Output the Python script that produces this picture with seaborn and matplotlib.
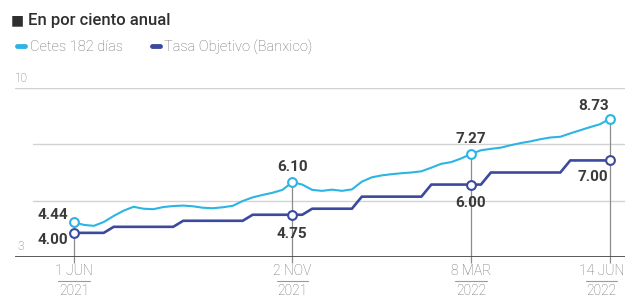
import matplotlib
matplotlib.use('Agg')
import matplotlib.pyplot as plt
import matplotlib.transforms as mtransforms
import seaborn as sns
import pandas as pd
import numpy as np

# weekly auctions, 1 Jun 2021 - 14 Jun 2022 (tuesdays)
fechas = pd.date_range('2021-06-01', '2022-06-14', freq='7D')

cetes = [4.44, 4.33, 4.29, 4.45, 4.70, 4.92, 5.08, 5.00, 4.98, 5.07, 5.11, 5.13,
         5.10, 5.04, 5.02, 5.06, 5.12, 5.32, 5.47, 5.57, 5.66, 5.78, 6.10,
         6.00, 5.78, 5.74, 5.79, 5.74, 5.80, 6.12, 6.30, 6.38, 6.43, 6.47, 6.50,
         6.55, 6.70, 6.86, 6.93, 7.08, 7.27,
         7.42, 7.48, 7.53, 7.63, 7.72, 7.79, 7.88, 7.95, 7.98, 8.12, 8.25, 8.38,
         8.50, 8.73]

banxico = [4.00, 4.00, 4.00, 4.00, 4.25, 4.25, 4.25, 4.25, 4.25, 4.25, 4.25,
           4.50, 4.50, 4.50, 4.50, 4.50, 4.50, 4.50, 4.75, 4.75, 4.75, 4.75, 4.75,
           4.75, 5.00, 5.00, 5.00, 5.00, 5.00, 5.50, 5.50, 5.50, 5.50, 5.50, 5.50,
           5.50, 6.00, 6.00, 6.00, 6.00, 6.00,
           6.00, 6.50, 6.50, 6.50, 6.50, 6.50, 6.50, 6.50, 6.50, 7.00, 7.00, 7.00,
           7.00, 7.00]

series = ['Cetes 182 días', 'Tasa Objetivo (Banxico)']
fechas_clave = pd.to_datetime(['2021-06-01', '2021-11-02', '2022-03-08', '2022-06-14'])
etiqueta_dia = ['1 JUN', '2 NOV', '8 MAR', '14 JUN']
etiqueta_anio = ['2021', '2021', '2022', '2022']

cyan = '#2cb5e4'
navy = '#3c4a9e'
gris = '#6e6e6e'

sns.set_style('white')
plt.rcParams['font.family'] = ['Roboto', 'DejaVu Sans']

df = pd.DataFrame({'fecha': fechas, series[0]: cetes, series[1]: banxico})
df = df.melt('fecha', var_name='serie', value_name='tasa')

fig = plt.figure(figsize=(6.29, 3.0), dpi=100)
ax = fig.add_axes([15/629, 43/300, 610/629, 169/300])

sns.lineplot(data=df, x='fecha', y='tasa', hue='serie', palette=[cyan, navy], ax=ax, zorder=3)
ax.lines[0].set_linewidth(1.5)
ax.lines[1].set_linewidth(1.9)

ax.set_ylim(3, 10)
ax.set_xlim(fechas[0] - pd.Timedelta(days=41.6), fechas[-1] + pd.Timedelta(days=10.6))
ax.set_xticks([])
ax.set_yticks([])
ax.set_xlabel('')
ax.set_ylabel('')
for s in ax.spines.values():
    s.set_visible(False)

# grid
grid = np.linspace(3, 10, 4)
for g in grid[1:-1]:
    ax.axhline(g, xmin=18/610, color='#d2d2d2', lw=1, zorder=0)
ax.axhline(grid[-1], color='#d2d2d2', lw=1, zorder=0)
ax.axhline(grid[0], color='#4a4a4a', lw=2, zorder=4)

blend = mtransforms.blended_transform_factory(ax.transAxes, ax.transData)
ax.annotate('10', xy=(0, 10), xycoords=blend, xytext=(0, 2), textcoords='offset points',
            ha='left', va='bottom', fontsize=8.5, color=gris, fontweight='light')
ax.annotate('3', xy=(0, 3), xycoords=blend, xytext=(2, 3), textcoords='offset points',
            ha='left', va='bottom', fontsize=8.5, color=gris, fontweight='light')

# highlighted dates
cetes_clave = [cetes[list(fechas).index(d)] for d in fechas_clave]
banx_clave = [banxico[list(fechas).index(d)] for d in fechas_clave]
ax.vlines(fechas_clave, 2.75, cetes_clave, color='#8c8c8c', lw=0.9, clip_on=False, zorder=1)
ax.scatter(fechas_clave, cetes_clave, s=40, facecolor='white', edgecolor=cyan, linewidth=1.5, zorder=6)
ax.scatter(fechas_clave, banx_clave, s=40, facecolor='white', edgecolor=navy, linewidth=1.5, zorder=6)

lab = dict(textcoords='offset points', fontsize=11, fontweight='bold', color='#3a3a3a', va='center')
off_c = [(-4, 5, 'right'), (0, 11, 'center'), (0, 11, 'center'), (-1, 9, 'right')]
off_b = [(-4, -5, 'right'), (0, -14, 'center'), (0, -13, 'center'), (-1, -12, 'right')]
for d, v, (dx, dy, ha) in zip(fechas_clave, cetes_clave, off_c):
    ax.annotate(f'{v:.2f}', xy=(d, v), xytext=(dx, dy), ha=ha, **lab)
for d, v, (dx, dy, ha) in zip(fechas_clave, banx_clave, off_b):
    ax.annotate(f'{v:.2f}', xy=(d, v), xytext=(dx, dy), ha=ha, **lab)

# date labels
bx = mtransforms.blended_transform_factory(ax.transData, ax.transAxes)
for i, (d, t1, t2) in enumerate(zip(fechas_clave, etiqueta_dia, etiqueta_anio)):
    dd = d - pd.Timedelta(days=6) if i == len(fechas_clave) - 1 else d
    ax.text(dd, -0.085, t1, transform=bx, ha='center', va='center', fontsize=10,
            color=gris, fontweight='light')
    ax.plot([dd - pd.Timedelta(days=11), dd + pd.Timedelta(days=11)], [-0.142, -0.142],
            transform=bx, color='#9a9a9a', lw=0.8, clip_on=False)
    ax.text(dd, -0.2, t2, transform=bx, ha='center', va='center', fontsize=10,
            color=gris, fontweight='light')

# legend
sns.move_legend(ax, 'center left', bbox_to_anchor=(0.016, 1 - 47/300), bbox_transform=fig.transFigure,
                ncol=2, frameon=False, title=None, handlelength=0.55, handletextpad=0.3,
                columnspacing=2.0, borderpad=0, fontsize=10.5)
leg = ax.get_legend()
for h in leg.legend_handles:
    h.set_linewidth(3.5)
for t in leg.get_texts():
    t.set_color(gris)
    t.set_fontweight('light')

# header
fig.text(11/629, 1 - 20/300, '■', family='DejaVu Sans', fontsize=10, color='#2f2f2f', va='center')
fig.text(28/629, 1 - 20/300, 'En por ciento anual', fontsize=12, color='#2f2f2f',
         fontweight='medium', va='center')

fig.savefig('out.png', dpi=100)
